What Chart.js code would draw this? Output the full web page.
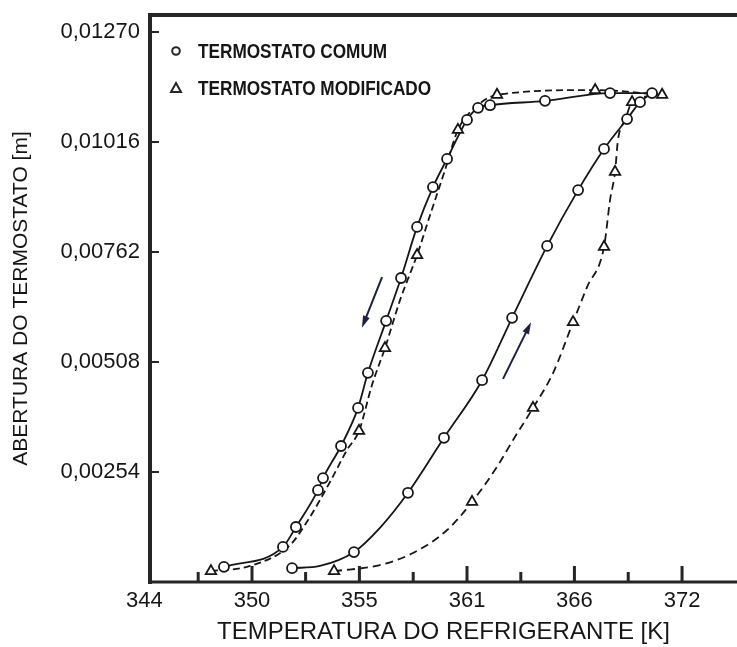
<!DOCTYPE html>
<html>
<head>
<meta charset="utf-8">
<script src="https://cdn.jsdelivr.net/npm/chart.js@4.4.1/dist/chart.umd.min.js"></script>
<style>
  html, body { margin: 0; padding: 0; background: #fff; }
  #wrap { width: 737px; height: 647px; }
</style>
</head>
<body>
<div id="wrap"><canvas id="c" width="737" height="647"></canvas></div>
<script>
// Temperature axis: one tick every 10 °F, written in kelvin
const xTickValues = [344.26, 349.82, 355.37, 360.93, 366.48, 372.04];
const xTickLabels = ['344', '350', '355', '361', '366', '372'];
const xMinorTicks = [347.04, 352.59, 358.15, 363.71, 369.26];
// Opening axis: one tick every 0.1 in, written in metres
const yTickValues = [0.00254, 0.00508, 0.00762, 0.01016, 0.01270];
const yTickLabels = ['0,00254', '0,00508', '0,00762', '0,01016', '0,01270'];

// Standard thermostat, closing branch (cooling) including the full-open plateau
const comumCoolT = [348.37, 351.42, 352.09, 353.23, 353.49, 354.42, 355.30, 355.81, 356.75, 357.52,
                    358.35, 359.17, 359.90, 360.93, 361.50, 362.12, 364.96, 368.32, 370.49];
const comumCoolY = [0.00035, 0.00081, 0.00127, 0.00212, 0.00240, 0.00314, 0.00402, 0.00483, 0.00603, 0.00702,
                    0.00820, 0.00912, 0.00977, 0.01067, 0.01095, 0.01101, 0.01111, 0.01129, 0.01129];
// Standard thermostat, opening branch (heating): measured points
const comumHeatMarkT = [351.89, 355.09, 357.88, 359.74, 361.71, 363.26, 365.07, 366.67, 368.01, 369.20, 369.87];
const comumHeatMarkY = [0.00032, 0.00069, 0.00206, 0.00333, 0.00466, 0.00610, 0.00776, 0.00905, 0.01000, 0.01069, 0.01108];
// Standard thermostat, opening branch: traced curve
const comumHeatT = [351.89, 353.33, 355.09, 356.43, 357.88, 359.74, 361.71, 363.26, 365.07, 366.67, 368.01, 369.20, 369.87, 370.49];
const comumHeatY = [0.00032, 0.00037, 0.00069, 0.00125, 0.00206, 0.00333, 0.00466, 0.00610, 0.00776, 0.00905, 0.01000, 0.01069, 0.01108, 0.01129];

// Modified thermostat: measured points
const modMarkT = [347.70, 355.35, 356.69, 358.35, 360.46, 362.48, 367.55, 369.46, 371.01,
                  354.06, 361.19, 364.34, 366.41, 368.01, 368.58];
const modMarkY = [0.00025, 0.00349, 0.00540, 0.00755, 0.01044, 0.01125, 0.01136, 0.01108, 0.01125,
                  0.00025, 0.00185, 0.00402, 0.00600, 0.00774, 0.00947];
// Modified thermostat, closing branch: traced curve
const modCoolT = [347.70, 349.72, 351.78, 352.66, 353.85, 354.73, 355.35, 356.02, 356.69, 357.47,
                  358.35, 359.02, 359.79, 360.46, 361.34, 362.48, 367.55, 371.01];
const modCoolY = [0.00025, 0.00037, 0.00085, 0.00139, 0.00231, 0.00305, 0.00349, 0.00455, 0.00540, 0.00651,
                  0.00755, 0.00847, 0.00951, 0.01044, 0.01095, 0.01125, 0.01136, 0.01125];
// Modified thermostat, opening branch: traced curve
const modHeatT = [354.06, 356.43, 358.14, 359.90, 361.19, 362.48, 363.31, 364.34, 365.38, 366.41,
                  367.13, 368.01, 368.32, 368.58, 368.73, 369.10, 369.46, 371.01];
const modHeatY = [0.00025, 0.00039, 0.00067, 0.00120, 0.00185, 0.00266, 0.00328, 0.00402, 0.00483, 0.00600,
                  0.00681, 0.00774, 0.00882, 0.00947, 0.01021, 0.01067, 0.01108, 0.01125];

// Direction arrows (start, end) in data units
const arrowDownT = [356.54, 355.50];
const arrowDownY = [0.00704, 0.00587];
const arrowUpT = [362.79, 364.24];
const arrowUpY = [0.00469, 0.00600];

const seriesNames = ['TERMOSTATO COMUM', 'TERMOSTATO MODIFICADO'];

const pts = (xs, ys) => xs.map((x, i) => ({ x, y: ys[i] }));
const INK = '#161616';
const FONT = "'Liberation Sans', Arial, Helvetica, sans-serif";

const curve = (xs, ys, dash) => ({
  data: pts(xs, ys),
  showLine: true,
  borderColor: INK,
  borderWidth: 1.8,
  borderDash: dash,
  pointRadius: 0,
  pointHoverRadius: 0,
  cubicInterpolationMode: 'monotone',
  fill: false
});

// Inward tick marks, frame, direction arrows and legend
const decor = {
  id: 'decor',
  afterDatasetsDraw(chart) {
    const { ctx, scales: { x, y } } = chart;
    const arrow = (ts, vs) => {
      const x1 = x.getPixelForValue(ts[0]), y1 = y.getPixelForValue(vs[0]);
      const x2 = x.getPixelForValue(ts[1]), y2 = y.getPixelForValue(vs[1]);
      const a = Math.atan2(y2 - y1, x2 - x1);
      ctx.save();
      ctx.strokeStyle = '#1d2140';
      ctx.fillStyle = '#1d2140';
      ctx.lineWidth = 2;
      ctx.beginPath();
      ctx.moveTo(x1, y1);
      ctx.lineTo(x2 - 8 * Math.cos(a), y2 - 8 * Math.sin(a));
      ctx.stroke();
      ctx.beginPath();
      ctx.moveTo(x2, y2);
      ctx.lineTo(x2 - 12 * Math.cos(a) + 3.5 * Math.sin(a), y2 - 12 * Math.sin(a) - 3.5 * Math.cos(a));
      ctx.lineTo(x2 - 12 * Math.cos(a) - 3.5 * Math.sin(a), y2 - 12 * Math.sin(a) + 3.5 * Math.cos(a));
      ctx.closePath();
      ctx.fill();
      ctx.restore();
    };
    arrow(arrowDownT, arrowDownY);
    arrow(arrowUpT, arrowUpY);
  },
  afterDraw(chart) {
    const { ctx, chartArea: ca, scales: { x, y } } = chart;
    ctx.save();
    ctx.strokeStyle = '#262626';
    ctx.lineCap = 'butt';
    // frame
    ctx.lineWidth = 4;
    ctx.beginPath();
    ctx.moveTo(ca.left - 2, ca.top);
    ctx.lineTo(ca.right, ca.top);
    ctx.moveTo(ca.left, ca.top - 2);
    ctx.lineTo(ca.left, ca.bottom + 2);
    ctx.stroke();
    ctx.lineWidth = 3;
    ctx.beginPath();
    ctx.moveTo(ca.left - 2, ca.bottom);
    ctx.lineTo(ca.right, ca.bottom);
    ctx.stroke();
    // x ticks pointing into the plot
    ctx.lineWidth = 3;
    ctx.beginPath();
    xTickValues.slice(1).forEach(v => {
      const px = x.getPixelForValue(v);
      ctx.moveTo(px, ca.bottom);
      ctx.lineTo(px, ca.bottom - 16);
    });
    xMinorTicks.forEach(v => {
      const px = x.getPixelForValue(v);
      ctx.moveTo(px, ca.bottom);
      ctx.lineTo(px, ca.bottom - 10);
    });
    ctx.stroke();
    // y ticks pointing into the plot
    ctx.lineWidth = 2;
    ctx.beginPath();
    yTickValues.forEach(v => {
      const py = y.getPixelForValue(v);
      ctx.moveTo(ca.left, py);
      ctx.lineTo(ca.left + 9, py);
    });
    ctx.stroke();

    // legend
    const lx = ca.left + 26;
    const rows = [ca.top + 36, ca.top + 73];
    ctx.fillStyle = INK;
    ctx.lineWidth = 2;
    ctx.beginPath();
    ctx.arc(lx, rows[0], 3.8, 0, Math.PI * 2);
    ctx.stroke();
    ctx.beginPath();
    ctx.moveTo(lx, rows[1] - 5);
    ctx.lineTo(lx + 5, rows[1] + 4);
    ctx.lineTo(lx - 5, rows[1] + 4);
    ctx.closePath();
    ctx.stroke();
    ctx.font = "bold 20px 'Liberation Sans', Arial, sans-serif";
    ctx.textBaseline = 'middle';
    ctx.textAlign = 'left';
    seriesNames.forEach((s, i) => {
      ctx.save();
      ctx.translate(lx + 22, rows[i] + 1);
      ctx.scale(0.86, 1);
      ctx.fillText(s, 0, 0);
      ctx.restore();
    });
    ctx.restore();
  }
};

new Chart(document.getElementById('c'), {
  type: 'scatter',
  data: {
    datasets: [
      {
        label: seriesNames[0],
        data: pts(comumCoolT.concat(comumHeatMarkT), comumCoolY.concat(comumHeatMarkY)),
        pointStyle: 'circle',
        pointRadius: 5,
        pointBorderWidth: 1.8,
        pointBackgroundColor: '#ffffff',
        pointBorderColor: INK,
        showLine: false
      },
      {
        label: seriesNames[1],
        data: pts(modMarkT, modMarkY),
        pointStyle: 'triangle',
        pointRadius: 6,
        pointBorderWidth: 1.8,
        pointBackgroundColor: '#ffffff',
        pointBorderColor: INK,
        showLine: false
      },
      curve(comumCoolT, comumCoolY, []),
      curve(comumHeatT, comumHeatY, []),
      curve(modCoolT, modCoolY, [7, 4]),
      curve(modHeatT, modHeatY, [8, 5])
    ]
  },
  options: {
    responsive: false,
    animation: false,
    devicePixelRatio: 1,
    layout: { autoPadding: false, padding: { top: 15, right: 0, bottom: 0, left: 0 } },
    plugins: { legend: { display: false }, tooltip: { enabled: false } },
    scales: {
      x: {
        type: 'linear',
        min: 344.55,
        max: 374.88,
        afterFit(s) { s.height = 65; s.paddingLeft = 0; s.paddingRight = 0; },
        afterBuildTicks(s) { s.ticks = xTickValues.map(v => ({ value: v })); },
        ticks: {
          callback: (v, i) => xTickLabels[i],
          autoSkip: false, maxRotation: 0, padding: 6,
          color: INK, font: { family: FONT, size: 22 }
        },
        grid: { display: false, drawTicks: false },
        border: { display: false },
        title: {
          display: true,
          text: 'TEMPERATURA DO REFRIGERANTE [K]',
          color: INK,
          font: { family: FONT, size: 24 },
          padding: { top: 0, bottom: 0 }
        }
      },
      y: {
        type: 'linear',
        min: 0,
        max: 0.013093,
        afterFit(s) { s.width = 150; s.paddingTop = 0; s.paddingBottom = 0; },
        afterBuildTicks(s) { s.ticks = yTickValues.map(v => ({ value: v })); },
        ticks: {
          callback: (v, i) => yTickLabels[i],
          autoSkip: false, padding: 10,
          color: INK, font: { family: FONT, size: 22 }
        },
        grid: { display: false, drawTicks: false },
        border: { display: false },
        title: {
          display: true,
          text: 'ABERTURA DO TERMOSTATO [m]',
          color: INK,
          font: { family: FONT, size: 21 },
          padding: { top: 9, bottom: 0 }
        }
      }
    }
  },
  plugins: [decor]
});
</script>
</body>
</html>
